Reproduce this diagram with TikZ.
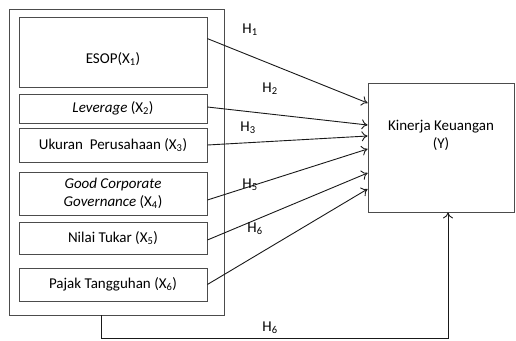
\documentclass[tikz,border=0pt]{standalone}
\usepackage{fontspec}
\setmainfont{Carlito}
\usetikzlibrary{positioning,arrows.meta}
\tikzstyle{block} = [rectangle,draw=black!70,line width=0.8pt,minimum width=188pt,
  align=center,font=\fontsize{15}{18}\selectfont]
\tikzstyle{line} = [draw=black!90, line width=0.9pt, -{To[length=6pt,width=10pt]}]
\tikzstyle{hlabel} = [font=\fontsize{15}{17}\selectfont]

\begin{document}
\begin{tikzpicture}[x=1pt, y=-1pt]
\useasboundingbox (0,0) rectangle (516,340);

\node [rectangle, draw=black!70, line width=0.8pt, minimum width=215pt, minimum height=306pt] (frame) at (116.5,162) {};

\node [block, minimum height=70pt, text height=22pt, text depth=0pt] (esop) at (113,52) {ESOP(X\textsubscript{1})};
\node [block, minimum height=29pt] (leverage) at (113,108.5) {\textit{Leverage} (X\textsubscript{2})};
\node [block, minimum height=34pt] (ukuran) at (113,145) {Ukuran~ Perusahaan (X\textsubscript{3})};
\node [block, minimum height=43pt, inner sep=1pt] (gcg) at (113,193.5) {\textit{Good Corporate}\\\textit{Governance} (X\textsubscript{4})};
\node [block, minimum height=32pt] (nilai) at (113,238) {Nilai Tukar (X\textsubscript{5})};
\node [block, minimum height=33pt] (pajak) at (113,284.5) {Pajak Tangguhan (X\textsubscript{6})};

\node [block, minimum width=146pt, minimum height=129pt, text depth=26pt] (kinerja) at (441,147.5) {Kinerja Keuangan\\(Y)};

\path [line] ([yshift=-22pt]esop.north east) -- ([yshift=44.5pt]kinerja.west);
\path [line] ([yshift=1.5pt]leverage.east) -- ([yshift=22.5pt]kinerja.west);
\path [line] (ukuran.east) -- ([yshift=11.5pt]kinerja.west);
\path [line] ([yshift=-6.5pt]gcg.east) -- ([yshift=-1.5pt]kinerja.west);
\path [line] ([yshift=-2pt]nilai.east) -- ([yshift=-25.5pt]kinerja.west);
\path [line] (pajak.east) -- ([yshift=-41.5pt]kinerja.west);

\coordinate (fb) at (101,315);
\path [line] (fb) -- ++(0,23) -| ([xshift=7pt]kinerja.south);

\node [hlabel] (h1) at (250,30) {H\textsubscript{1}};
\node [hlabel] (h2) at (270,89) {H\textsubscript{2}};
\node [hlabel] (h3) at (248,128) {H\textsubscript{3}};
\node [hlabel] (h5) at (250,185) {H\textsubscript{5}};
\node [hlabel] (h6) at (255,229) {H\textsubscript{6}};
\node [hlabel] (h6b) at (270,328) {H\textsubscript{6}};

\end{tikzpicture}
\end{document}
